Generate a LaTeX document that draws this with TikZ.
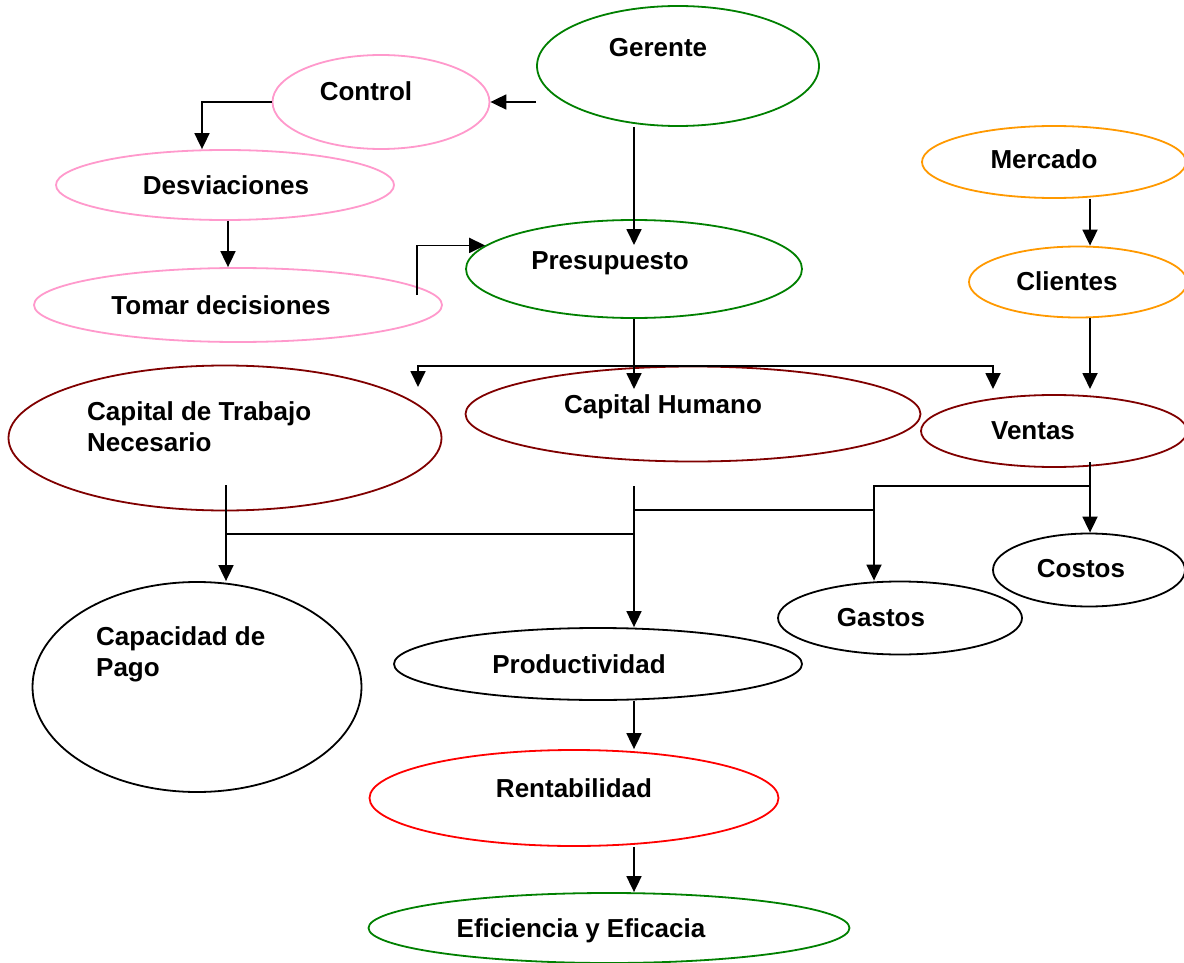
\documentclass[tikz,border=0pt]{standalone}
\usepackage{fontspec}
\setmainfont{Liberation Sans}
\usepackage{tikz}
\usetikzlibrary{shapes.geometric,arrows.meta}
\definecolor{rosa}{RGB}{255,153,204}
\definecolor{verde}{RGB}{0,128,0}
\definecolor{granate}{RGB}{128,0,0}
\definecolor{naranja}{RGB}{255,153,0}
\definecolor{rojo}{RGB}{255,0,0}
\tikzset{
  elip/.style={ellipse, draw=#1, line width=1.8pt, inner sep=0pt},
  txt/.style={font=\bfseries\fontsize{26}{31}\selectfont, inner sep=0pt, anchor=base},
  flecha/.style={line width=1.8pt, ->}
}

\begin{document}
\begin{tikzpicture}[x=1pt, y=-1pt, >={Triangle[length=16pt, width=15pt]}]

  \useasboundingbox[fill=white] (0,0) rectangle (1184,963);

  % ellipses
  \node[elip=verde,   minimum width=282pt, minimum height=120pt] (ger)  at (678,66)  {};
  \node[elip=rosa,    minimum width=217pt, minimum height=94pt]  (ctrl) at (381,102) {};
  \node[elip=rosa,    minimum width=338pt, minimum height=70pt]  (desv) at (225,185) {};
  \node[elip=rosa,    minimum width=408pt, minimum height=74pt]  (tom)  at (238,305) {};
  \node[elip=verde,   minimum width=336pt, minimum height=98pt]  (pres) at (634,269) {};
  \node[elip=naranja, minimum width=264pt, minimum height=72pt]  (merc) at (1054,162) {};
  \node[elip=naranja, minimum width=218pt, minimum height=71pt]  (cli)  at (1078,282) {};
  \node[elip=granate, minimum width=433pt, minimum height=145pt] (ctn)  at (225,438) {};
  \node[elip=granate, minimum width=455pt, minimum height=95pt]  (ch)   at (693,414) {};
  \node[elip=granate, minimum width=266pt, minimum height=72pt]  (ven)  at (1054,431) {};
  \node[elip=black,   minimum width=192pt, minimum height=73pt]  (cos)  at (1089,570) {};
  \node[elip=black,   minimum width=244pt, minimum height=73pt]  (gas)  at (900,618) {};
  \node[elip=black,   minimum width=329pt, minimum height=210pt] (cap)  at (197,687) {};
  \node[elip=black,   minimum width=408pt, minimum height=72pt]  (prod) at (598,664) {};
  \node[elip=rojo,    minimum width=409pt, minimum height=96pt]  (rent) at (574,798) {};
  \node[elip=verde,   minimum width=481pt, minimum height=70pt]  (efi)  at (609,928) {};

  % texts
  \node[txt] (ger-t)  at (658,57)  {Gerente};
  \node[txt] (ctrl-t) at (366,101) {Control};
  \node[txt] (desv-t) at (226,194) {Desviaciones};
  \node[txt] (tom-t)  at (221,314) {Tomar decisiones};
  \node[txt] (pres-t) at (610,269) {Presupuesto};
  \node[txt] (merc-t) at (1044,169) {Mercado};
  \node[txt] (cli-t)  at (1067,290) {Clientes};
  \node[txt, anchor=base west, align=left] (ctn-t) at (87,451) {Capital de Trabajo\\Necesario};
  \node[txt] (ch-t)   at (663,413) {Capital Humano};
  \node[txt] (ven-t)  at (1033,439) {Ventas};
  \node[txt] (cos-t)  at (1081,577) {Costos};
  \node[txt] (gas-t)  at (881,626) {Gastos};
  \node[txt, anchor=base west, align=left] (cap-t) at (96,676) {Capacidad de\\Pago};
  \node[txt] (prod-t) at (579,673) {Productividad};
  \node[txt] (rent-t) at (574,797) {Rentabilidad};
  \node[txt] (efi-t)  at (581,937) {Eficiencia y Eficacia};

  % free ends of the connectors
  \coordinate (tom-out) at (417,295);
  \coordinate (pres-in) at (634,245);
  \coordinate (pbus)    at (634,366);
  \coordinate (ch-in)   at (634,389);
  \coordinate (ctn-in)  at (418,387);
  \coordinate (ven-in)  at (993,389);
  \coordinate (ven-out) at (1090,462);
  \coordinate (vbus)    at (1090,486);
  \coordinate (gcol)    at (874,486);
  \coordinate (ch-out)  at (634,486);
  \coordinate (pj)      at (634,510);
  \coordinate (ctn-out) at (226,485);
  \coordinate (cj)      at (226,534);

  \draw[flecha] (ctrl.east -| ger.west) -- (ctrl.east); % Gerente -> Control
  \draw[flecha] (ctrl.west) -| ([xshift=-23pt]desv.north); % Control -> Desviaciones
  \draw[flecha] ([xshift=3pt]desv.south) -- ([xshift=3pt]desv.south |- tom.north);
  \draw[flecha] (tom-out) |- (pres.171); % Tomar decisiones -> Presupuesto
  \draw[flecha] (ger.south -| pres-in) -- (pres-in); % Gerente -> Presupuesto

  \draw[flecha] (pres.south) -- (ch-in);
  \draw[flecha] (pbus) -| (ctn-in);
  \draw[flecha] (pbus) -| (ven-in);

  \draw[flecha] (merc.south -| ven-out) -- (cli.north -| ven-out); % Mercado -> Clientes
  \draw[flecha] (cli.south -| ven-out) -- (ven-in -| ven-out); % Clientes -> Ventas
  \draw[flecha] (ven-out) -- (ven-out |- cos.north); % Ventas -> Costos
  \draw[flecha] (vbus) -| (gcol |- gas.north); % Ventas -> Gastos
  \draw[line width=1.8pt] (pj) -- (pj -| gcol);

  \draw[flecha] (ch-out) -- (ch-out |- prod.north);
  \draw[flecha] (ctn-out) -- (ctn-out |- cap.north);
  \draw[line width=1.8pt] (cj) -- (cj -| ch-out);

  \draw[flecha] (prod.south -| pres.south) -- (rent.north -| pres.south);
  \draw[flecha] (rent.south -| pres.south) -- (efi.north -| pres.south);
\end{tikzpicture}
\end{document}
